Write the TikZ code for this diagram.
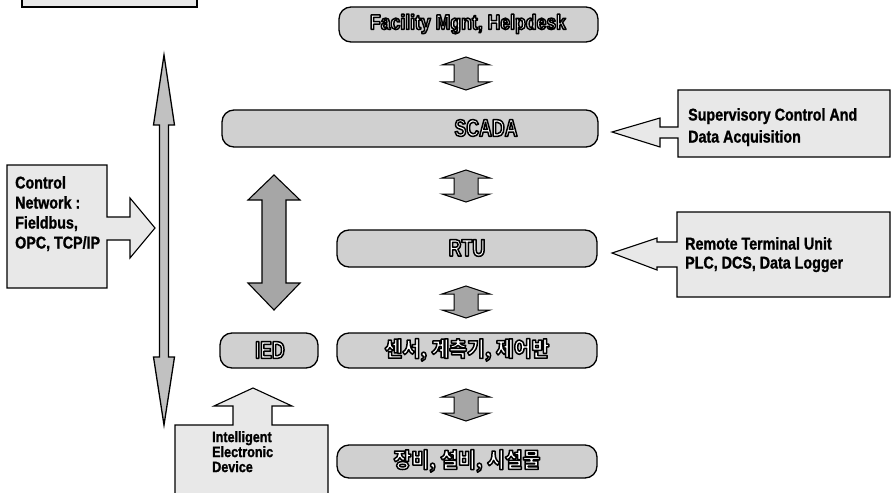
\documentclass[tikz,border=0pt]{standalone}
\usepackage{fontspec}
\setmainfont{Liberation Sans}[FakeStretch=0.84, BoldFeatures={FakeBold=1.2}]
\newfontfamily\boxfont{Liberation Sans}[FakeStretch=0.84]
\newfontfamily\boxfontn{Liberation Sans}[FakeStretch=0.74]
\newfontfamily\krfont{Noto Sans CJK KR}[FakeStretch=0.92]
\definecolor{boxgray}{HTML}{D0D0D0}
\definecolor{arrowgray}{HTML}{A6A6A6}
\definecolor{calloutgray}{HTML}{E8E8E8}
\newcommand\olt[1]{\special{pdf:literal direct 2 Tr 1.5 w 1 j 0 0 0 RG 1 1 1 rg}#1\special{pdf:literal direct 0 Tr 0 0 0 rg}}
\newcommand\vdarr[8]{\draw[#1] (#2,#3) -- ({#2+#6},{#3+#7}) -- ({#2+#5},{#3+#7}) -- ({#2+#5},{#4-#8}) -- ({#2+#6},{#4-#8}) -- (#2,#4) -- ({#2-#6},{#4-#8}) -- ({#2-#5},{#4-#8}) -- ({#2-#5},{#3+#7}) -- ({#2-#6},{#3+#7}) -- cycle;}
\tikzset{
  mainbox/.style={draw=black, line width=1.3pt, fill=boxgray, rounded corners=12pt, inner sep=0pt},
  boxlabel/.style={font=\boxfont\bfseries\fontsize{21}{22}\selectfont, inner sep=0pt},
  shortlabel/.style={font=\boxfontn\bfseries\fontsize{24}{24}\selectfont, inner sep=0pt},
  krlabel/.style={font=\krfont\bfseries\fontsize{21}{22}\selectfont, inner sep=0pt},
  callout/.style={draw=black, line width=1.1pt, fill=calloutgray, line join=miter},
  callouttext/.style={font=\bfseries\fontsize{17}{20}\selectfont, align=left, inner sep=0pt, anchor=north west},
  smallarrow/.style={draw=black, line width=1pt, fill=arrowgray},
  bigarrow/.style={draw=black, line width=1.1pt, fill=arrowgray},
  thinarrow/.style={draw=black, line width=1.3pt, fill=arrowgray!70}
}
\begin{document}
\begin{tikzpicture}[x=1pt,y=-1pt]
\useasboundingbox (0,0) rectangle (893,492);
\fill[white] (0,0) rectangle (893,492);
% top-left cut title box
\draw[callout] (22,-6) rectangle (197,7);
% main column boxes
\node[mainbox, minimum width=259, minimum height=35] (fac) at (468.5,24.5) {};
\node[boxlabel] (facT) at (468,24) {\olt{Facility Mgnt, Helpdesk}};
\node[mainbox, minimum width=376, minimum height=37] (scada) at (410,128.5) {};
\node[shortlabel] (scadaT) at (486,128) {\olt{SCADA}};
\node[mainbox, minimum width=260, minimum height=37] (rtu) at (467,248.5) {};
\node[shortlabel] (rtuT) at (467,248) {\olt{RTU}};
\node[mainbox, minimum width=260, minimum height=35] (sensor) at (467,350.5) {};
\node[krlabel] (sensorT) at (467,350) {\olt{센서, 계측기, 제어반}};
\node[mainbox, minimum width=98, minimum height=35] (ied) at (269,350.5) {};
\node[shortlabel] (iedT) at (270,350) {\olt{IED}};
\node[mainbox, minimum width=260, minimum height=33] (equip) at (467,461.5) {};
\node[krlabel] (equipT) at (467,461) {\olt{장비, 설비, 시설물}};
% small double arrows between column boxes
\vdarr{smallarrow}{466}{57}{90}{12}{24}{8}{8}
\vdarr{smallarrow}{466}{170}{202}{12}{24}{8}{8}
\vdarr{smallarrow}{466}{286}{318}{12}{24}{8}{8}
\vdarr{smallarrow}{466}{389}{421}{12}{24}{8}{8}
% big double arrow
\vdarr{bigarrow}{274}{175}{310}{12}{26}{25}{27}
% thin network arrow
\vdarr{thinarrow}{164}{55}{425}{4.5}{10.5}{70}{68}
% Control network callout
\draw[callout] (7,165) -- (107,165) -- (107,217) -- (130,217) -- (130,198) -- (155,228) -- (130,258) -- (130,240) -- (107,240) -- (107,288) -- (7,288) -- cycle;
\node[callouttext] (ctrl) at (15,176) {Control\\Network :\\Fieldbus,\\OPC, TCP/IP};
% Supervisory callout
\draw[callout] (890,90) -- (678,90) -- (678,127) -- (660,127) -- (660,118) -- (612,132) -- (660,147) -- (660,138) -- (678,138) -- (678,157) -- (890,157) -- cycle;
\node[callouttext, font=\bfseries\fontsize{17}{22}\selectfont] (sup) at (688,108) {Supervisory Control And\\Data Acquisition};
% Remote terminal callout
\draw[callout] (890,212) -- (677,212) -- (677,242) -- (657,242) -- (657,238) -- (612,253) -- (657,270) -- (657,267) -- (677,267) -- (677,297) -- (890,297) -- cycle;
\node[callouttext, font=\bfseries\fontsize{17}{19}\selectfont] (rem) at (685,237) {Remote Terminal Unit\\PLC, DCS, Data Logger};
% Intelligent electronic device callout
\draw[callout] (175,496) -- (175,425) -- (233,425) -- (233,406) -- (214,406) -- (253,388) -- (292,406) -- (272,406) -- (272,425) -- (328,425) -- (328,496) -- cycle;
\node[callouttext, font=\bfseries\fontsize{15}{15}\selectfont] (ied2) at (212,431) {Intelligent\\Electronic\\Device};
\end{tikzpicture}
\end{document}
